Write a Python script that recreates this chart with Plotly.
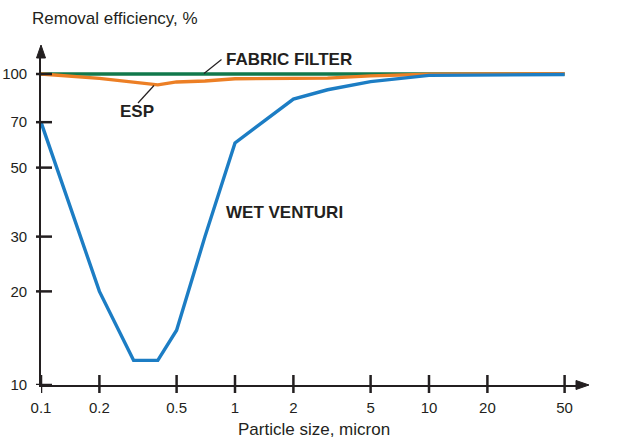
import math
import plotly.graph_objects as go

# ---------------- data ----------------
x_ticks = [0.1, 0.2, 0.5, 1, 2, 5, 10, 20, 50]
x_tick_labels = ["0.1", "0.2", "0.5", "1", "2", "5", "10", "20", "50"]
y_ticks = [10, 20, 30, 50, 70, 100]
y_tick_labels = ["10", "20", "30", "50", "70", "100"]

fabric_x = [0.1, 0.2, 0.5, 1, 2, 3, 5, 10, 20, 50]
fabric_y = [100, 100, 99.9, 99.9, 99.7, 99.6, 99.7, 99.8, 99.9, 100]

esp_x = [0.1, 0.2, 0.4, 0.5, 0.7, 1, 2, 3, 5, 10, 20, 50]
esp_y = [100, 96.8, 92.3, 94.3, 95.0, 96.5, 96.8, 97.0, 98.6, 99.8, 100, 100.3]

venturi_x = [0.1, 0.2, 0.3, 0.4, 0.5, 0.7, 1, 2, 3, 5, 10, 20, 50]
venturi_y = [70, 20, 12, 12, 15, 30, 60, 83, 89, 94.5, 99, 99.3, 99.6]

# ---------------- layout geometry ----------------
W, H = 624, 445
L, R, T, B = 41, 578, 57, 385
PW, PH = R - L, B - T
DEC_X, DEC_Y = 194.0, 311.0

def px(x):
    return (x - L) / PW

def py(y):
    return (B - y) / PH

INK = "#231f20"
FONT = "Liberation Sans, Arial, sans-serif"
BLUE = "#1c7dc4"
ORANGE = "#ec7f25"
GREEN = "#11784b"

fig = go.Figure()
fig.add_trace(go.Scatter(x=fabric_x, y=fabric_y, mode="lines",
                         line=dict(color=GREEN, width=3.4), name="Fabric filter"))
fig.add_trace(go.Scatter(x=esp_x, y=esp_y, mode="lines",
                         line=dict(color=ORANGE, width=3.4), name="ESP"))
fig.add_trace(go.Scatter(x=venturi_x, y=venturi_y, mode="lines",
                         line=dict(color=BLUE, width=3.4), name="Wet venturi"))

shapes = []
# x tick marks crossing the axis
for v in x_ticks:
    shapes.append(dict(type="line", xref="x", yref="paper", x0=v, x1=v,
                       y0=py(393), y1=py(375), line=dict(color=INK, width=2.5)))
# y tick marks
for v in y_ticks:
    shapes.append(dict(type="line", xref="paper", yref="y", x0=px(36), x1=px(52),
                       y0=v, y1=v, line=dict(color=INK, width=2.5)))
# arrowheads
shapes.append(dict(type="path", xref="paper", yref="paper",
                   path=f"M {px(576)},{py(380.5)} L {px(589)},{py(385)} L {px(576)},{py(389.5)} Z",
                   fillcolor=INK, line=dict(color=INK, width=1)))
shapes.append(dict(type="path", xref="paper", yref="paper",
                   path=f"M {px(36.5)},{py(58)} L {px(41)},{py(45)} L {px(45.5)},{py(58)} Z",
                   fillcolor=INK, line=dict(color=INK, width=1)))
# leader lines
shapes.append(dict(type="line", xref="paper", yref="paper",
                   x0=px(204), y0=py(73.5), x1=px(221.5), y1=py(59.5),
                   line=dict(color=INK, width=1.2)))
shapes.append(dict(type="line", xref="paper", yref="paper",
                   x0=px(154), y0=py(85.5), x1=px(138), y1=py(103),
                   line=dict(color=INK, width=1.2)))

annotations = [
    dict(text="Removal efficiency, %", xref="paper", yref="paper",
         x=px(30), y=py(18.5), xanchor="left", yanchor="middle", showarrow=False,
         font=dict(family=FONT, size=17, color=INK)),
    dict(text="Particle size, micron", xref="paper", yref="paper",
         x=px(313.7), y=py(429.5), xanchor="center", yanchor="middle", showarrow=False,
         font=dict(family=FONT, size=17, color=INK)),
    dict(text="<b>FABRIC FILTER</b>", xref="paper", yref="paper",
         x=px(224), y=py(59.5), xanchor="left", yanchor="middle", showarrow=False,
         font=dict(family=FONT, size=17, color=INK)),
    dict(text="<b>ESP</b>", xref="paper", yref="paper",
         x=px(136.5), y=py(111.5), xanchor="center", yanchor="middle", showarrow=False,
         font=dict(family=FONT, size=17, color=INK)),
    dict(text="<b>WET VENTURI</b>", xref="paper", yref="paper",
         x=px(224), y=py(212.5), xanchor="left", yanchor="middle", showarrow=False,
         font=dict(family=FONT, size=17, color=INK)),
]

fig.update_layout(
    width=W, height=H,
    margin=dict(l=L, r=W - R, t=T, b=H - B, pad=0, autoexpand=False),
    paper_bgcolor="white", plot_bgcolor="white",
    showlegend=False,
    shapes=shapes,
    annotations=annotations,
    font=dict(family=FONT, size=14, color=INK),
)
fig.update_xaxes(type="log", range=[-1, -1 + PW / DEC_X], automargin=False,
                 tickvals=x_ticks, ticktext=x_tick_labels, ticks="",
                 showgrid=False, zeroline=False, showline=True,
                 linecolor=INK, linewidth=1.6, ticklabelstandoff=8,
                 tickfont=dict(family=FONT, size=15, color=INK))
fig.update_yaxes(type="log", range=[1, 1 + PH / DEC_Y], automargin=False,
                 tickvals=y_ticks, ticktext=y_tick_labels, ticks="",
                 showgrid=False, zeroline=False, showline=True,
                 linecolor=INK, linewidth=1.6, ticklabelstandoff=9,
                 tickfont=dict(family=FONT, size=15, color=INK))

fig.write_html("out.html", config={"displayModeBar": False},
               post_script="document.body.style.margin='0';document.body.style.overflow='hidden';")
